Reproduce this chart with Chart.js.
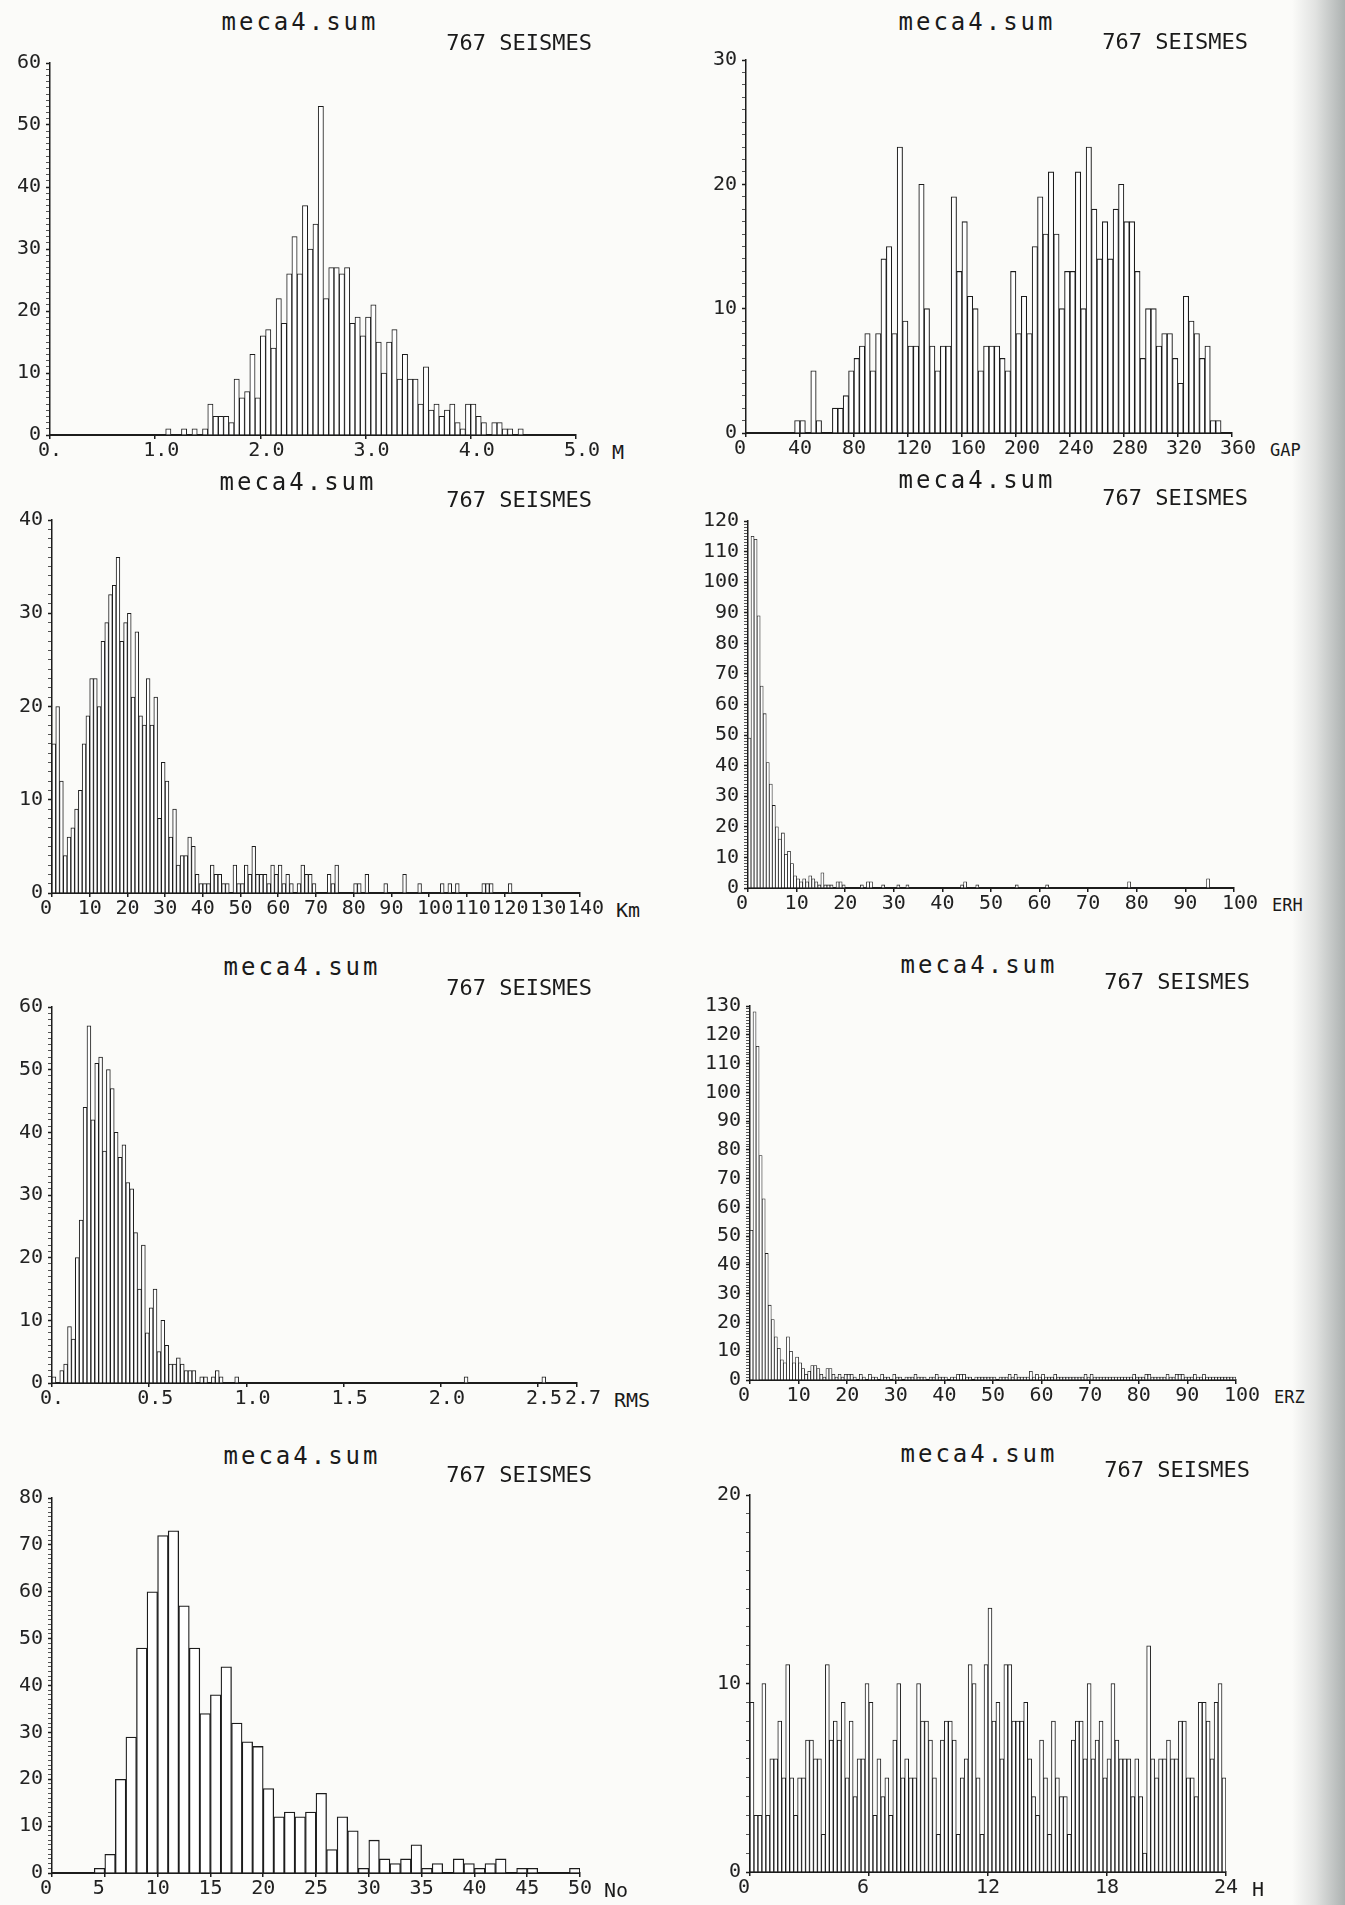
<!DOCTYPE html>
<html lang="fr">
<head>
<meta charset="UTF-8">
<title>meca4.sum - histogrammes</title>
<script src="https://cdn.jsdelivr.net/npm/chart.js"></script>
<style>
    body { margin: 0; background: #fbfbf9; }
    #page {
        position: relative; width: 1345px; height: 1905px; overflow: hidden;
        background: linear-gradient(to right, rgba(0,0,0,0) 1292px, rgba(150,155,155,0.25) 1315px, rgba(120,128,128,0.6) 1345px);
    }
    canvas { position: absolute; }
    .txt { position: absolute; font-family: "DejaVu Sans Mono", monospace; color: #1a1a1a; white-space: nowrap; line-height: 1; }
    .fichier { font-size: 24px; letter-spacing: 3px; transform: translate(-50%, -50%); }
    .nb { font-size: 22px; transform: translate(-100%, -50%); }
    .unite { font-size: 20px; transform: translate(0, -50%); }
    .petit { font-size: 17px; }
</style>
</head>
<body>
<div id="page"></div>

<script>
    // ---- counts per bin (767 events) ----

    // magnitude, bins of 0.05
    const magBin = 0.05;
    const magCounts = [
        0,0,0,0,0,0,0,0,0,0, 0,0,0,0,0,0,0,0,0,0,
        0,0,1,0,0,1,0,1,0,1, 5,3,3,3,2,9,6,7,13,6,
        16,17,14,22,18,26,32,26,37,30, 34,53,22,27,27,26,27,18,19,16,
        19,21,15,10,15,17,9,13,9,9, 5,11,4,5,3,4,5,2,1,5,
        5,3,2,0,2,2,1,1,0,1, 0,0,0,0,0,0,0,0,0,0
    ];
    const magTicks = [0, 1, 2, 3, 4, 5];
    const magLabels = ['0.', '1.0', '2.0', '3.0', '4.0', '5.0'];

    // azimuthal gap, bins of 4 degrees
    const gapBin = 4;
    const gapCounts = [
        0,0,0,0,0,0,0,0,0,1, 1,0,5,1,0,0,2,2,3,5,
        6,7,8,5,8,14,15,8,23,9, 7,7,20,10,7,5,7,7,19,13,
        17,11,10,5,7,7,7,6,5,13, 8,11,8,15,19,16,21,16,10,13,
        13,21,10,23,18,14,17,14,18,20, 17,17,13,6,10,10,7,8,8,6,
        4,11,9,8,6,7,1,1,0,0
    ];
    const gapTicks = [0, 40, 80, 120, 160, 200, 240, 280, 320, 360];

    // depth (km), bins of 1 km
    const kmBin = 1;
    const kmCounts = [
        16,20,12,4,6,7,9,11,16,19, 23,23,20,27,29,32,33,36,27,29,
        30,21,28,19,18,23,18,21,8,14, 12,6,9,3,4,4,6,5,2,1,
        1,1,3,2,2,1,1,0,3,1, 1,3,2,5,2,2,2,1,3,2,
        3,1,2,1,0,1,3,2,2,1, 0,0,0,2,1,3,0,0,0,0,
        1,1,0,2,0,0,0,0,1,0, 0,0,0,2,0,0,0,1,0,0,
        0,0,0,1,0,1,0,1,0,0, 0,0,0,0,1,1,1,0,0,0,
        0,1,0,0,0,0,0,0,0,0, 0,0,0,0,0,0,0,0,0,0
    ];
    const kmTicks = [0, 10, 20, 30, 40, 50, 60, 70, 80, 90, 100, 110, 120, 130, 140];

    // horizontal error ERH, bins of 0.625
    const erhBin = 0.625;
    const erhCounts = [
        49,115,114,89,66,57,41,34,27,20, 16,18,11,12,8,4,3,2,3,2,
        4,3,2,1,5,1,1,1,0,2, 2,1,0,0,0,0,0,1,0,2,
        2,0,0,0,1,0,0,0,0,1, 0,0,1,0,0,0,0,0,0,0,
        0,0,0,0,0,0,0,0,0,0, 1,2,0,0,0,1,0,0,0,0,
        0,0,0,0,0,0,0,0,1,0, 0,0,0,0,0,0,0,0,1,0,
        0,0,0,0,0,0,0,0,0,0, 0,0,0,0,0,0,0,0,0,0,
        0,0,0,0,0,2,0,0,0,0, 0,0,0,0,0,0,0,0,0,0,
        0,0,0,0,0,0,0,0,0,0, 0,3,0,0,0,0,0,0,0,0
    ];
    const errTicks = [0, 10, 20, 30, 40, 50, 60, 70, 80, 90, 100];

    // RMS residual, bins of 0.02 s
    const rmsBin = 0.02;
    const rmsCounts = [
        1,0,2,3,9,7,20,26,44,57, 42,51,52,37,50,47,40,36,38,32,
        31,24,15,22,8,12,15,5,10,6, 3,3,4,3,2,2,2,0,1,1,
        0,1,2,1,0,0,0,1,0,0, 0,0,0,0,0,0,0,0,0,0,
        0,0,0,0,0,0,0,0,0,0, 0,0,0,0,0,0,0,0,0,0,
        0,0,0,0,0,0,0,0,0,0, 0,0,0,0,0,0,0,0,0,0,
        0,0,0,0,0,0,1,0,0,0, 0,0,0,0,0,0,0,0,0,0,
        0,0,0,0,0,0,1,0,0,0, 0,0,0,0,0
    ];
    const rmsTicks = [0, 0.5, 1, 1.5, 2, 2.5, 2.7];
    const rmsLabels = ['0.', '0.5', '1.0', '1.5', '2.0', '2.5', '2.7'];

    // vertical error ERZ, bins of 0.625
    const erzBin = 0.625;
    const erzCounts = [
        52,128,116,78,63,44,26,21,15,11, 7,6,15,10,6,8,6,4,2,3,
        5,5,4,2,1,4,4,2,1,2, 1,2,2,2,1,0,2,1,0,2,
        1,1,0,2,1,1,0,2,1,1, 0,1,1,1,2,1,1,1,0,1,
        1,2,1,1,1,0,1,1,2,2, 2,1,1,0,1,1,1,1,1,1,
        1,0,1,1,1,2,1,2,1,1, 1,1,3,1,2,1,2,1,1,1,
        2,1,1,1,1,1,1,1,1,1, 2,1,2,1,1,1,1,1,1,1,
        1,1,1,1,1,1,2,1,1,1, 2,2,1,1,1,1,1,2,1,1,
        2,2,2,1,1,1,2,1,1,2, 1,1,1,1,1,1,1,1,1,1
    ];

    // number of stations, bins of 1
    const noBin = 1;
    const noCounts = [
        0,0,0,0,1,4,20,29,48,60, 72,73,57,48,34,38,44,32,28,27,
        18,12,13,12,13,17,5,12,9,1, 7,3,2,3,6,1,2,0,3,2,
        1,2,3,0,1,1,0,0,0,1
    ];
    const noTicks = [0, 5, 10, 15, 20, 25, 30, 35, 40, 45, 50];

    // origin hour, bins of 0.2 h
    const hBin = 0.2;
    const hCounts = [
        9,3,3,10,3,6,6,8,5,11, 5,3,5,5,7,7,6,6,2,11,
        7,8,7,9,5,8,4,6,6,10, 9,3,6,4,5,3,7,10,5,6,
        5,5,10,8,8,7,5,2,7,8, 8,7,2,5,6,11,10,5,2,11,
        14,8,9,6,11,11,8,8,8,9, 6,4,3,7,5,2,8,5,4,4,
        2,7,8,8,6,10,6,7,8,5, 6,10,7,6,6,6,4,6,4,1,
        12,6,5,6,6,7,6,6,8,8, 5,5,4,9,9,8,6,9,10,5
    ];
    const hTicks = [0, 6, 12, 18, 24];

    const fileName = 'meca4.sum';
    const eventCount = '767 SEISMES';

    // ---- page layout (pixel frame of each plot, header and unit spots) ----
    const panels = [
        { counts: magCounts, bin: magBin, xmax: 5, ymax: 60, xticks: magTicks, xlabels: magLabels, unit: 'M',
          x0: 50, x1: 578, y0: 60, y1: 435, tx: 300, ty: 22, nx: 592, ny: 43, ux: 612, lw: 1 },
        { counts: gapCounts, bin: gapBin, xmax: 360, ymax: 30, xticks: gapTicks, unit: 'GAP', small: true,
          x0: 746, x1: 1234, y0: 57, y1: 433, tx: 977, ty: 22, nx: 1248, ny: 42, ux: 1270, lw: 1.1 },
        { counts: kmCounts, bin: kmBin, xmax: 140, ymax: 40, xticks: kmTicks, unit: 'Km',
          x0: 52, x1: 582, y0: 517, y1: 893, tx: 298, ty: 482, nx: 592, ny: 500, ux: 616, lw: 1 },
        { counts: erhCounts, bin: erhBin, xmax: 100, ymax: 120, xticks: errTicks, unit: 'ERH', small: true,
          x0: 748, x1: 1236, y0: 518, y1: 888, tx: 977, ty: 480, nx: 1248, ny: 498, ux: 1272, lw: 0.8 },
        { counts: rmsCounts, bin: rmsBin, xmax: 2.7, ymax: 60, xticks: rmsTicks, xlabels: rmsLabels, unit: 'RMS',
          x0: 52, x1: 579, y0: 1004, y1: 1383, tx: 302, ty: 967, nx: 592, ny: 988, ux: 614, lw: 1 },
        { counts: erzCounts, bin: erzBin, xmax: 100, ymax: 130, xticks: errTicks, unit: 'ERZ', small: true,
          x0: 750, x1: 1238, y0: 1003, y1: 1380, tx: 979, ty: 965, nx: 1250, ny: 982, ux: 1274, lw: 0.8 },
        { counts: noCounts, bin: noBin, xmax: 50, ymax: 80, xticks: noTicks, unit: 'No',
          x0: 52, x1: 580, y0: 1495, y1: 1873, tx: 302, ty: 1456, nx: 592, ny: 1475, ux: 604, lw: 1.3 },
        { counts: hCounts, bin: hBin, xmax: 24, ymax: 20, xticks: hTicks, unit: 'H',
          x0: 750, x1: 1226, y0: 1492, y1: 1872, tx: 979, ty: 1454, nx: 1250, ny: 1470, ux: 1252, lw: 1 }
    ];

    const YW = 62, XH = 34, PT = 14, PR = 34;
    const ink = '#1c1c1c';
    const tickFont = { family: '"DejaVu Sans Mono", monospace', size: 20 };
    const page = document.getElementById('page');

    function addText(cls, text, x, y) {
        const d = document.createElement('div');
        d.className = 'txt ' + cls;
        d.textContent = text;
        d.style.left = x + 'px';
        d.style.top = y + 'px';
        page.appendChild(d);
    }

    function histogram(p) {
        const canvas = document.createElement('canvas');
        canvas.width = p.x1 - p.x0 + YW + PR;
        canvas.height = p.y1 - p.y0 + PT + XH;
        canvas.style.left = (p.x0 - YW) + 'px';
        canvas.style.top = (p.y0 - PT) + 'px';
        page.appendChild(canvas);

        // one bar per bin, centred in its bin
        const points = p.counts.map((v, i) => ({ x: (i + 0.5) * p.bin, y: v }));

        new Chart(canvas, {
            type: 'bar',
            data: {
                datasets: [{
                    data: points,
                    backgroundColor: '#ffffff',
                    borderColor: ink,
                    borderWidth: p.lw,
                    borderSkipped: 'start',
                    barPercentage: 1,
                    categoryPercentage: 1
                }]
            },
            options: {
                responsive: false,
                animation: false,
                layout: { padding: { top: PT, right: PR, left: 0, bottom: 0 } },
                plugins: { legend: { display: false }, tooltip: { enabled: false } },
                scales: {
                    x: {
                        type: 'linear', min: 0, max: p.xmax, offset: false,
                        border: { color: ink, width: 2 },
                        grid: { drawOnChartArea: false, offset: false, tickLength: 4, color: ink, lineWidth: 1.5 },
                        afterBuildTicks: s => { s.ticks = p.xticks.map(v => ({ value: v })); },
                        afterFit: s => { s.height = XH; },
                        // the plotter writes each label starting a little before its tick
                        ticks: {
                            autoSkip: false, maxRotation: 0, minRotation: 0, padding: 0,
                            align: 'start', labelOffset: -12,
                            color: '#222', font: tickFont,
                            callback: (v, i) => p.xlabels ? p.xlabels[i] : String(p.xticks[i])
                        }
                    },
                    y: {
                        min: 0, max: p.ymax,
                        border: { color: ink, width: 1.5 },
                        grid: {
                            drawOnChartArea: false, tickLength: 4,
                            tickColor: c => c.tick && c.tick.value % 10 === 0 ? ink : '#555',
                            tickWidth: c => c.tick && c.tick.value % 10 === 0 ? 1.5 : 1
                        },
                        // a small tick at every unit, labels every ten
                        afterBuildTicks: s => { s.ticks = Array.from({ length: p.ymax + 1 }, (_, i) => ({ value: i })); },
                        afterFit: s => { s.width = YW; },
                        ticks: {
                            autoSkip: false, padding: 5, color: '#222', font: tickFont,
                            callback: v => v % 10 === 0 ? String(v) : ''
                        }
                    }
                }
            }
        });

        // header and unit, as on the plotter sheet
        addText('fichier', fileName, p.tx, p.ty);
        addText('nb', eventCount, p.nx, p.ny);
        addText('unite' + (p.small ? ' petit' : ''), p.unit, p.ux, p.y1 + 17);
    }

    panels.forEach(histogram);
</script>
</body>
</html>
